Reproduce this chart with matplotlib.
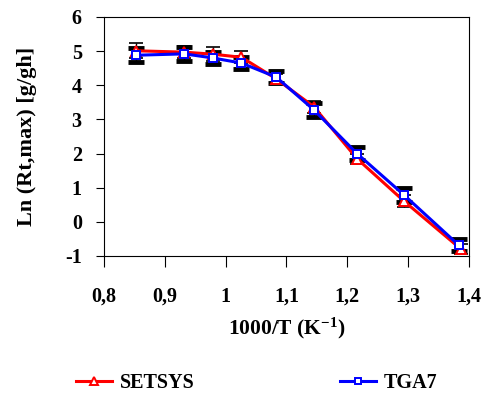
import matplotlib
matplotlib.use("Agg")
import matplotlib.pyplot as plt
from matplotlib.ticker import FuncFormatter

plt.rcParams['font.family'] = ['Liberation Serif', 'DejaVu Serif']
plt.rcParams['font.weight'] = 'bold'
plt.rcParams['axes.unicode_minus'] = False
plt.rcParams['mathtext.fontset'] = 'custom'
plt.rcParams['mathtext.rm'] = 'Liberation Serif:bold'
plt.rcParams['mathtext.bf'] = 'Liberation Serif:bold'
plt.rcParams['mathtext.default'] = 'bf'

# Arrhenius-type data: ln of maximum rate vs reciprocal temperature
x_setsys = [0.853, 0.932, 0.979, 1.026, 1.083, 1.145, 1.216, 1.293, 1.387]
y_setsys = [5.01, 4.97, 4.91, 4.82, 4.19, 3.37, 1.85, 0.61, -0.80]
err_setsys = [0.22, 0.18, 0.21, 0.17, 0.15, 0.18, 0.15, 0.17, 0.15]

x_tga7 = [0.853, 0.932, 0.979, 1.026, 1.083, 1.145, 1.216, 1.293, 1.383]
y_tga7 = [4.88, 4.92, 4.80, 4.65, 4.24, 3.28, 2.00, 0.79, -0.68]
err_tga7 = [0.20, 0.20, 0.18, 0.18, 0.17, 0.20, 0.20, 0.20, 0.17]

x_ticks = [0.8, 0.9, 1.0, 1.1, 1.2, 1.3, 1.4]
y_ticks = [-1, 0, 1, 2, 3, 4, 5, 6]

fig = plt.figure(figsize=(4.84, 3.94), dpi=100)
ax = fig.add_axes([0.2149, 0.3503, 0.754, 0.6066])

ax.errorbar(x_setsys, y_setsys, yerr=err_setsys, fmt='none', ecolor='black',
            elinewidth=1.0, capsize=5, capthick=1.2, zorder=2)
ax.errorbar(x_tga7, y_tga7, yerr=err_tga7, fmt='none', ecolor='black',
            elinewidth=1.0, capsize=5.5, capthick=3.5, zorder=2)

h_setsys, = ax.plot(x_setsys, y_setsys, color='red', lw=2.2, marker='^',
                    ms=6.5, mfc='white', mec='red', mew=1.4, zorder=3)
h_tga7, = ax.plot(x_tga7, y_tga7, color='blue', lw=2.2, marker='s', ms=5.5,
                  mfc='white', mec='blue', mew=1.4, zorder=4)

ax.set_xlim(0.8, 1.4)
ax.set_ylim(-1, 6)
ax.set_xticks(x_ticks)
ax.set_yticks(y_ticks)
ax.xaxis.set_major_formatter(FuncFormatter(
    lambda v, p: ('%g' % round(v, 2)).replace('.', ',')))
ax.tick_params(axis='x', direction='out', length=8, width=0.8, pad=14,
               labelsize=14.5)
ax.tick_params(axis='y', direction='out', length=6, width=0.8, pad=10,
               labelsize=14.5)
for s in ax.spines.values():
    s.set_linewidth(0.8)

ax.set_xlabel('1000/T (K$^{-1}$)', fontsize=15.5, fontweight='bold',
              labelpad=7)
ax.set_ylabel('Ln (Rt,max) [g/gh]', fontsize=16, fontweight='bold',
              labelpad=20)

fig.legend(handles=[h_setsys, h_tga7], labels=['SETSYS', 'TGA7'],
           loc='center', bbox_to_anchor=(0.53, 0.028), ncol=2, frameon=False,
           fontsize=14.5, columnspacing=7.2, handlelength=1.8,
           handletextpad=0.4, markerscale=0.8)

fig.savefig('out.png', dpi=100)
